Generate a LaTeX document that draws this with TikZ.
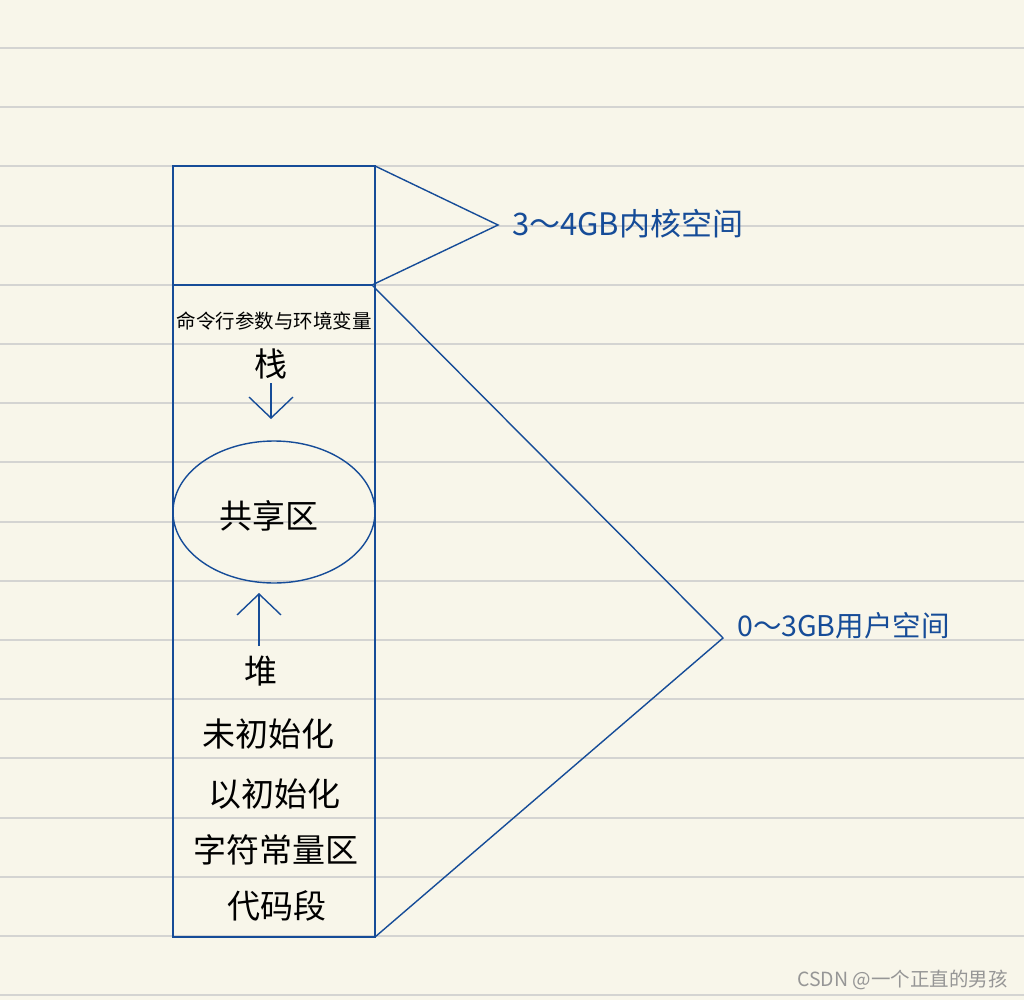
\documentclass[tikz,border=0pt]{standalone}
\usepackage{fontspec}
\newfontfamily\cjk{Noto Sans CJK SC}
\usetikzlibrary{shapes.geometric,arrows.meta}
\definecolor{bgc}{RGB}{248,246,234}
\definecolor{rulec}{RGB}{212,212,210}
\definecolor{penc}{RGB}{22,76,152}
\definecolor{wmc}{RGB}{150,150,150}
\tikzset{
  pen/.style={draw=penc,line width=1.4pt},
  bigtxt/.style={font=\cjk\fontsize{33}{36}\selectfont,text=black,inner sep=0pt},
  smalltxt/.style={font=\cjk\fontsize{19.5}{22}\selectfont,text=black,inner sep=0pt},
  handtxt/.style={text=penc,inner sep=0pt,anchor=west},
  barb/.style={pen,-{Straight Barb[length=21pt,width=44pt,line width=1.4pt]}}
}
\begin{document}
\begin{tikzpicture}[x=1pt,y=-1pt]
\useasboundingbox (0,0) rectangle (1024,1000);
\fill[bgc] (0,0) rectangle (1024,1000);
\foreach \k in {0,...,16}
  \draw[rulec,line width=2pt] (0,{48+59.2*\k}) -- (1024,{48+59.2*\k});
% frame coordinates
\coordinate (tl) at (173,166);
\coordinate (tr) at (375,166);
\coordinate (br) at (375,937);
\coordinate (dl) at (173,285);
\coordinate (dr) at (372,285);
\coordinate (kapex) at (498,225);
\coordinate (uapex) at (723,638);
\draw[pen] (tl) rectangle (br);
\draw[pen] (dl) -- (dr);
\draw[pen] (tr) -- (kapex) -- (dr) -- (uapex) -- (br);
% labels on the right
\node[handtxt,font=\cjk\fontsize{31}{34}\selectfont] (klabel) at (512,224) {3～4GB内核空间};
\node[handtxt,font=\cjk\fontsize{28.5}{32}\selectfont] (ulabel) at (737,626) {0～3GB用户空间};
% contents
\node[smalltxt] (args) at (274,321) {命令行参数与环境变量};
\node[bigtxt] (stack) at (271,364) {栈};
\coordinate (sdown) at (271,419);
\draw[barb] (271,383) -- (sdown);
\node[pen,ellipse,minimum width=202pt,minimum height=142pt,inner sep=0pt] (share) at (274,512) {};
\node[bigtxt] (sharetxt) at (269,516) {共享区};
\coordinate (hup) at (259,593);
\draw[barb] (259,646) -- (hup);
\node[bigtxt] (heap) at (261,671) {堆};
\node[bigtxt] (bss) at (268,734) {未初始化};
\node[bigtxt] (data) at (274,794) {以初始化};
\node[bigtxt] (rodata) at (276,850) {字符常量区};
\node[bigtxt] (text) at (277,906) {代码段};
% watermark
\node[font=\cjk\fontsize{19.5}{22}\selectfont,text=wmc,anchor=east,inner sep=0pt] (wm) at (1008,980) {CSDN @一个正直的男孩};
\end{tikzpicture}
\end{document}
